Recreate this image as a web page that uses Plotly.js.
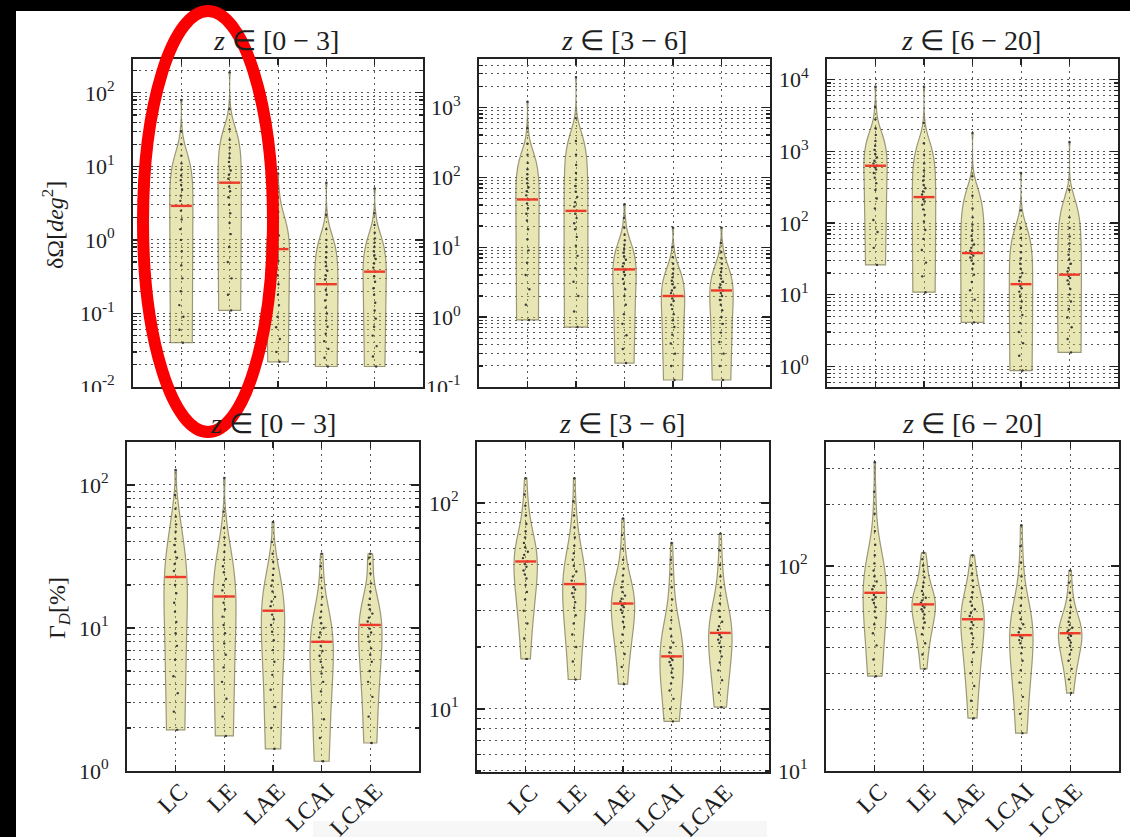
<!DOCTYPE html>
<html><head><meta charset="utf-8">
<script src="https://cdn.plot.ly/plotly-3.0.1.min.js"></script>
<style>html,body{margin:0;padding:0;background:#fff;} #chart{width:1130px;height:837px;}</style>
</head><body><div id="chart"></div>
<script>
// ---------------- DATA ----------------
const categories = ["LC", "LE", "LAE", "LCAI", "LCAE"];
const panelTitles = ["<i>z</i> ∈ [0 − 3]", "<i>z</i> ∈ [3 − 6]", "<i>z</i> ∈ [6 − 20]"];

// δΩ [deg²], z in [0-3]; one list per category
const dOmega_z0_3 = [
  [0.04, 0.06, 0.09, 0.13, 0.2, 0.3, 0.45, 0.7, 1.0, 1.4, 1.9, 2.5, 2.9, 3.4, 4.0, 4.8, 5.6, 6.5, 7.5, 9, 11, 14, 20, 30, 80],
  [0.11, 0.18, 0.3, 0.5, 0.8, 1.2, 1.7, 2.3, 3.0, 3.8, 4.6, 5.3, 6.0, 6.8, 7.7, 8.8, 10, 11.5, 13, 15, 18, 23, 32, 60, 190],
  [0.022, 0.03, 0.045, 0.065, 0.09, 0.13, 0.18, 0.25, 0.33, 0.42, 0.52, 0.63, 0.75, 0.88, 1.0, 1.15, 1.3, 1.5, 1.75, 2.0, 2.4, 3.0, 3.8, 5, 8],
  [0.019, 0.025, 0.033, 0.042, 0.053, 0.066, 0.08, 0.1, 0.12, 0.15, 0.18, 0.21, 0.25, 0.29, 0.33, 0.38, 0.44, 0.5, 0.58, 0.68, 0.8, 1.0, 1.4, 2.2, 6],
  [0.019, 0.026, 0.036, 0.05, 0.066, 0.085, 0.11, 0.14, 0.18, 0.22, 0.27, 0.32, 0.37, 0.42, 0.48, 0.55, 0.62, 0.7, 0.8, 0.92, 1.05, 1.25, 1.6, 2.3, 5]
];
// δΩ [deg²], z in [3-6]
const dOmega_z3_6 = [
  [0.91, 1.5, 2.5, 4, 6, 9, 13, 18, 24, 30, 36, 42, 48, 55, 63, 72, 82, 95, 110, 130, 160, 210, 300, 500, 1200],
  [0.72, 1.2, 2.0, 3.2, 5, 7.5, 10.5, 14, 18, 22, 26, 30, 33, 38, 44, 52, 62, 75, 92, 115, 150, 210, 330, 700, 2700],
  [0.22, 0.35, 0.55, 0.8, 1.1, 1.5, 2.0, 2.5, 3.0, 3.5, 4.0, 4.4, 4.8, 5.3, 5.9, 6.6, 7.4, 8.3, 9.4, 10.8, 12.5, 15, 19, 26, 41],
  [0.126, 0.2, 0.3, 0.42, 0.56, 0.72, 0.9, 1.1, 1.3, 1.5, 1.7, 1.85, 2.0, 2.2, 2.4, 2.65, 2.95, 3.3, 3.7, 4.2, 4.9, 5.8, 7.2, 10, 19],
  [0.126, 0.2, 0.3, 0.44, 0.6, 0.8, 1.0, 1.25, 1.5, 1.75, 2.0, 2.2, 2.4, 2.65, 2.9, 3.2, 3.55, 3.95, 4.4, 5.0, 5.8, 6.9, 8.5, 11.5, 19]
];
// δΩ [deg²], z in [6-20]
const dOmega_z6_20 = [
  [26, 45, 75, 110, 160, 220, 290, 360, 430, 500, 560, 600, 630, 680, 740, 820, 920, 1050, 1200, 1400, 1700, 2100, 2800, 4200, 8000],
  [10.8, 18, 28, 42, 60, 80, 105, 130, 155, 180, 200, 215, 230, 250, 275, 305, 340, 390, 450, 540, 680, 900, 1300, 2500, 8000],
  [4.1, 6, 8.5, 11.5, 15, 19, 23, 27, 30, 33, 35, 37, 38, 41, 45, 50, 57, 66, 78, 95, 120, 160, 240, 450, 1800],
  [0.87, 1.4, 2.1, 3.0, 4.0, 5.2, 6.5, 8, 9.5, 11, 12.3, 13.2, 14, 15.5, 17.5, 20, 23, 27, 32, 39, 48, 62, 85, 150, 500],
  [1.56, 2.4, 3.5, 4.8, 6.3, 8, 10, 12, 14, 15.8, 17, 18.2, 19, 21, 23.5, 27, 31, 36, 43, 52, 65, 85, 120, 290, 1350]
];
// Γ_D [%], z in [0-3]
const gammaD_z0_3 = [
  [1.94, 2.6, 3.5, 4.6, 6, 7.5, 9.2, 11, 13, 15, 17.5, 20, 22.7, 25, 28, 31, 34, 38, 42, 47, 53, 60, 68, 85, 127],
  [1.76, 2.4, 3.2, 4.2, 5.3, 6.5, 7.8, 9.2, 10.5, 12, 13.5, 15, 16.6, 18.3, 20, 22, 24.5, 27, 30, 34, 38, 43, 50, 65, 112],
  [1.43, 2.0, 2.8, 3.7, 4.7, 5.8, 7, 8.2, 9.4, 10.5, 11.5, 12.4, 13.2, 14.2, 15.3, 16.5, 18, 19.7, 21.5, 23.5, 26, 29, 33, 40, 55],
  [1.17, 1.7, 2.3, 3.0, 3.6, 4.2, 4.8, 5.3, 5.8, 6.4, 6.9, 7.5, 8.0, 8.6, 9.3, 10, 10.8, 11.8, 13, 14.5, 16.5, 19, 22.5, 27, 33],
  [1.57, 2.4, 3.3, 4.2, 5.0, 5.8, 6.5, 7.2, 8.0, 8.7, 9.3, 9.9, 10.5, 11.1, 11.8, 12.6, 13.5, 14.5, 16, 18, 20.5, 24, 28, 31, 33]
];
// Γ_D [%], z in [3-6]
const gammaD_z3_6 = [
  [17.5, 22, 26, 30, 34, 37, 40, 43, 45, 47, 49, 50.5, 52, 54, 56, 58, 61, 64, 68, 73, 79, 87, 97, 110, 132],
  [13.9, 17, 20, 23, 26, 28.5, 31, 33, 35, 36.5, 38, 39, 40.4, 42, 44, 46.5, 49.5, 53, 57, 62, 68, 76, 87, 102, 132],
  [13.2, 16, 18.5, 21, 23, 25, 26.5, 28, 29.3, 30.3, 31.2, 31.9, 32.5, 33.3, 34.3, 35.5, 37, 39, 41.5, 44.5, 48, 53, 60, 70, 84],
  [8.7, 10, 11.2, 12.3, 13.3, 14.2, 15, 15.7, 16.3, 16.9, 17.3, 17.7, 18, 18.8, 19.8, 21, 22.5, 24.5, 27, 30, 34, 39, 45, 53, 64],
  [10.2, 12, 13.8, 15.4, 16.8, 18, 19.1, 20, 20.9, 21.7, 22.3, 22.9, 23.4, 24.2, 25.2, 26.5, 28, 30, 32.5, 35.5, 39, 44, 50, 59, 71]
];
// Γ_D [%], z in [6-20]
const gammaD_z6_20 = [
  [29, 35, 41, 47, 52, 56, 60, 63, 66, 68.5, 70.5, 72.3, 74, 77, 80, 84, 89, 95, 103, 113, 127, 148, 180, 230, 321],
  [31.5, 37, 42, 46.5, 50, 53, 55.5, 58, 60, 61.5, 62.8, 64, 65, 66.3, 68, 70, 72.5, 75.5, 79, 83, 88, 94, 101, 108, 116],
  [18.1, 22, 26, 30, 34, 38, 41.5, 44.5, 47, 49.5, 51.5, 53.3, 55, 57, 59, 61.5, 64, 67, 70.5, 74.5, 79, 85, 92, 101, 113],
  [15.3, 19, 23, 27, 31, 34.5, 37.5, 40, 42, 43.5, 44.5, 45.3, 46, 47.5, 49.5, 52, 55, 59, 64, 70, 78, 89, 104, 125, 158],
  [24, 28, 31.5, 34.5, 37, 39, 40.8, 42.3, 43.6, 44.7, 45.6, 46.3, 47, 47.8, 48.8, 50, 51.5, 53.5, 56, 59, 63, 68, 74, 83, 95]
];

// ---------------- helpers ----------------
function median(a) {
  const s = a.slice().sort((p, q) => p - q);
  const m = Math.floor(s.length / 2);
  return s.length % 2 ? s[m] : (s[m - 1] + s[m]) / 2;
}
// Scott's rule bandwidth (matplotlib default for violinplot)
function scottBW(a) {
  const n = a.length;
  const mean = a.reduce((p, q) => p + q, 0) / n;
  const v = a.reduce((p, q) => p + (q - mean) * (q - mean), 0) / (n - 1);
  return Math.sqrt(v) * Math.pow(n, -0.2);
}

const W = 1130, H = 837;
const fx = x => x / W;
const fy = y => 1 - y / H;

const panels = [
  {data: dOmega_z0_3,  x: [133, 423], y: [59, 387],  range: [-2, 2.46],     title: 0, bottom: false, tx: 276, ty: 40},
  {data: dOmega_z3_6,  x: [479, 770], y: [59, 387],  range: [-1, 3.69],     title: 1, bottom: false, tx: 624, ty: 40},
  {data: dOmega_z6_20, x: [827, 1118], y: [59, 387], range: [-0.29, 4.29],  title: 2, bottom: false, tx: 971, ty: 40},
  {data: gammaD_z0_3,  x: [127, 419], y: [442, 771], range: [0, 2.30],      title: 0, bottom: true,  tx: 273, ty: 423},
  {data: gammaD_z3_6,  x: [477, 769], y: [442, 772], range: [0.694, 2.296], title: 1, bottom: true,  tx: 622, ty: 423},
  {data: gammaD_z6_20, x: [826, 1119], y: [442, 771], range: [1, 2.605],    title: 2, bottom: true,  tx: 972, ty: 423}
];

const serif = "Liberation Serif";
const textColor = "#1e1e1e";
const gridColor = "#555555";
const gridDash = "2px,4px";
const fillColor = "rgba(200,192,70,0.40)";
const edgeColor = "rgba(125,122,85,0.75)";
const medColor = "#ee3a2a";

const traces = [];
const layout = {
  width: W, height: H,
  margin: {l: 0, r: 0, t: 0, b: 0},
  paper_bgcolor: "#ffffff",
  plot_bgcolor: "rgba(0,0,0,0)",
  showlegend: false,
  violinmode: "overlay",
  font: {family: serif, color: textColor},
  annotations: [],
  shapes: []
};

panels.forEach((p, i) => {
  const k = i + 1;
  const xa = "x" + k, ya = "y" + k;
  const xKey = "xaxis" + (k === 1 ? "" : k);
  const yKey = "yaxis" + (k === 1 ? "" : k);

  // violins
  p.data.forEach((vals, c) => {
    traces.push({
      type: "violin", xaxis: xa, yaxis: ya,
      x: vals.map(() => categories[c]), y: vals,
      width: 0.48, scalemode: "width", spanmode: "hard",
      bandwidth: scottBW(vals),
      fillcolor: fillColor,
      line: {color: edgeColor, width: 1.2},
      points: "all", jitter: 0.25, pointpos: 0,
      marker: {size: 2.4, color: "#3a3a3a", line: {width: 0}},
      box: {visible: false}, meanline: {visible: false},
      hoverinfo: "skip", showlegend: false
    });
  });
  // medians (red bars)
  traces.push({
    type: "scatter", mode: "markers", xaxis: xa, yaxis: ya,
    x: categories, y: p.data.map(median),
    marker: {symbol: "line-ew", size: 15, line: {width: 2.4, color: medColor}},
    hoverinfo: "skip", showlegend: false
  });

  // log ticks
  const lo = Math.floor(p.range[0]), hi = Math.ceil(p.range[1]);
  const major = [], majorText = [], minor = [];
  for (let d = lo; d <= hi; d++) {
    if (d >= p.range[0] - 1e-6 && d <= p.range[1] + 1e-6) {
      major.push(Math.pow(10, d));
      majorText.push("10<sup>" + d + "</sup>");
    }
    for (let m = 2; m <= 9; m++) minor.push(m * Math.pow(10, d));
  }

  layout[xKey] = {
    type: "category", categoryorder: "array", categoryarray: categories,
    range: [-1, 5],
    domain: [fx(p.x[0]), fx(p.x[1])], anchor: ya,
    showgrid: true, gridcolor: gridColor, griddash: gridDash, gridwidth: 1,
    ticks: "inside", ticklen: 6, tickwidth: 1.2, tickcolor: "#222",
    showline: true, linecolor: "#222", linewidth: 1.8, mirror: "ticks",
    showticklabels: p.bottom, tickangle: -45,
    tickfont: {family: serif, size: 24, color: textColor},
    ticklabelstandoff: -5, ticklabelshift: 5,
    zeroline: false, fixedrange: true
  };
  layout[yKey] = {
    type: "log", range: p.range,
    domain: [fy(p.y[1]), fy(p.y[0])], anchor: xa,
    tickmode: "array", tickvals: major, ticktext: majorText,
    ticks: "inside", ticklen: 8, tickwidth: 1.2, tickcolor: "#222",
    showgrid: true, gridcolor: gridColor, griddash: gridDash, gridwidth: 1,
    minor: {tickmode: "array", tickvals: minor, ticks: "inside", ticklen: 4, tickcolor: "#222",
            showgrid: true, gridcolor: gridColor, griddash: gridDash, gridwidth: 1},
    showline: true, linecolor: "#222", linewidth: 1.8, mirror: "ticks",
    tickfont: {family: serif, size: 22, color: textColor},
    ticklabelstandoff: 12,
    zeroline: false, fixedrange: true
  };

  layout.annotations.push({
    xref: "paper", yref: "paper", x: fx(p.tx), y: fy(p.ty),
    xanchor: "center", yanchor: "middle", showarrow: false,
    text: panelTitles[p.title], font: {family: serif, size: 28, color: textColor}
  });
});

// y-axis titles
layout.annotations.push({
  xref: "paper", yref: "paper", x: fx(53), y: fy(225), xanchor: "center", yanchor: "middle",
  showarrow: false, textangle: -90, text: "δΩ[<i>deg</i><sup>2</sup>]",
  font: {family: serif, size: 24, color: textColor}
});
layout.annotations.push({
  xref: "paper", yref: "paper", x: fx(59), y: fy(608), xanchor: "center", yanchor: "middle",
  showarrow: false, textangle: -90, text: "Γ<sub><i>D</i></sub>[%]",
  font: {family: serif, size: 24, color: textColor}
});

// frame decorations of the screenshot
layout.shapes.push({type: "rect", xref: "paper", yref: "paper", x0: 0, x1: 1, y0: fy(11), y1: 1,
  fillcolor: "#000", line: {width: 0}, layer: "above"});
layout.shapes.push({type: "rect", xref: "paper", yref: "paper", x0: 0, x1: fx(16), y0: 0, y1: 1,
  fillcolor: "#000", line: {width: 0}, layer: "above"});
layout.shapes.push({type: "rect", xref: "paper", yref: "paper", x0: fx(313), x1: fx(767), y0: 0, y1: fy(821),
  fillcolor: "#f7f7f7", line: {width: 0}, layer: "below"});
// the bottom tick labels of the upper row are clipped in the source image
layout.shapes.push({type: "rect", xref: "paper", yref: "paper", x0: fx(60), x1: fx(131), y0: fy(405), y1: fy(392),
  fillcolor: "#fff", line: {width: 0}, layer: "above"});
layout.shapes.push({type: "rect", xref: "paper", yref: "paper", x0: fx(425), x1: fx(477), y0: fy(405), y1: fy(392),
  fillcolor: "#fff", line: {width: 0}, layer: "above"});
// red highlight ellipse
layout.shapes.push({type: "circle", xref: "paper", yref: "paper",
  x0: fx(143), x1: fx(273), y0: fy(432), y1: fy(11),
  line: {color: "#fa0000", width: 12}, fillcolor: "rgba(0,0,0,0)", layer: "above"});

Plotly.newPlot("chart", traces, layout, {staticPlot: true, displayModeBar: false});
</script>
</body></html>
